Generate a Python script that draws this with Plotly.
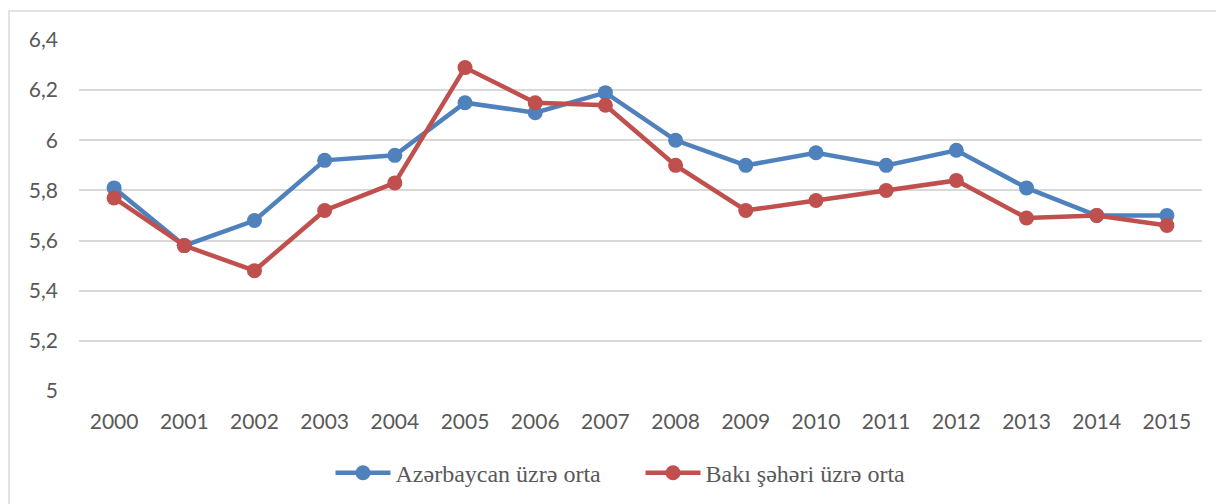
import plotly.graph_objects as go

years = list(range(2000, 2016))
azerbaijan = [5.81, 5.58, 5.68, 5.92, 5.94, 6.15, 6.11, 6.19, 6.00, 5.90, 5.95, 5.90, 5.96, 5.81, 5.70, 5.70]
baku = [5.77, 5.58, 5.48, 5.72, 5.83, 6.29, 6.15, 6.14, 5.90, 5.72, 5.76, 5.80, 5.84, 5.69, 5.70, 5.66]
ytick_vals = [5.0, 5.2, 5.4, 5.6, 5.8, 6.0, 6.2, 6.4]
ytick_text = ["5", "5,2", "5,4", "5,6", "5,8", "6", "6,2", "6,4"]
names = ["Azərbaycan üzrə orta", "Bakı şəhəri üzrə orta"]

fig = go.Figure()
fig.add_trace(go.Scatter(x=years, y=azerbaijan, name=names[0], mode="lines+markers",
                         line=dict(color="#4F81BD", width=4.5), marker=dict(size=15, color="#4F81BD")))
fig.add_trace(go.Scatter(x=years, y=baku, name=names[1], mode="lines+markers",
                         line=dict(color="#C0504D", width=4.5), marker=dict(size=15, color="#C0504D")))

fig.update_layout(
    width=1224, height=504,
    margin=dict(l=71, r=30, t=32, b=121),
    paper_bgcolor="white", plot_bgcolor="white",
    font=dict(family="Lato, Open Sans, sans-serif", color="#595959", size=21),
    xaxis=dict(range=[1999.5, 2015.5], tickvals=years, ticktext=[str(y) for y in years],
               showgrid=False, zeroline=False, showline=False, ticks="",
               ticklabelstandoff=16,
               tickfont=dict(size=21, color="#595959")),
    yaxis=dict(range=[5.0, 6.4], tickvals=ytick_vals, ticktext=ytick_text,
               showgrid=True, gridcolor="#D9D9D9", gridwidth=1.5, zeroline=False,
               showline=False, ticks="", ticklabelstandoff=20,
               tickfont=dict(size=21, color="#595959")),
    legend=dict(orientation="h", x=0.5, xanchor="center", y=-0.234, yanchor="middle",
                font=dict(family="Liberation Serif, Times New Roman, serif", size=24, color="#595959"),
                itemwidth=55, entrywidth=240, tracegroupgap=0),
    showlegend=True,
    shapes=[dict(type="rect", xref="paper", yref="paper",
                 x0=(9 - 79) / 1123, x1=1.2, y0=-0.5, y1=(391 - 11) / 351,
                 line=dict(color="#D9D9D9", width=1.5), fillcolor="rgba(0,0,0,0)", layer="below")],
)

fig.write_html("out.html")
